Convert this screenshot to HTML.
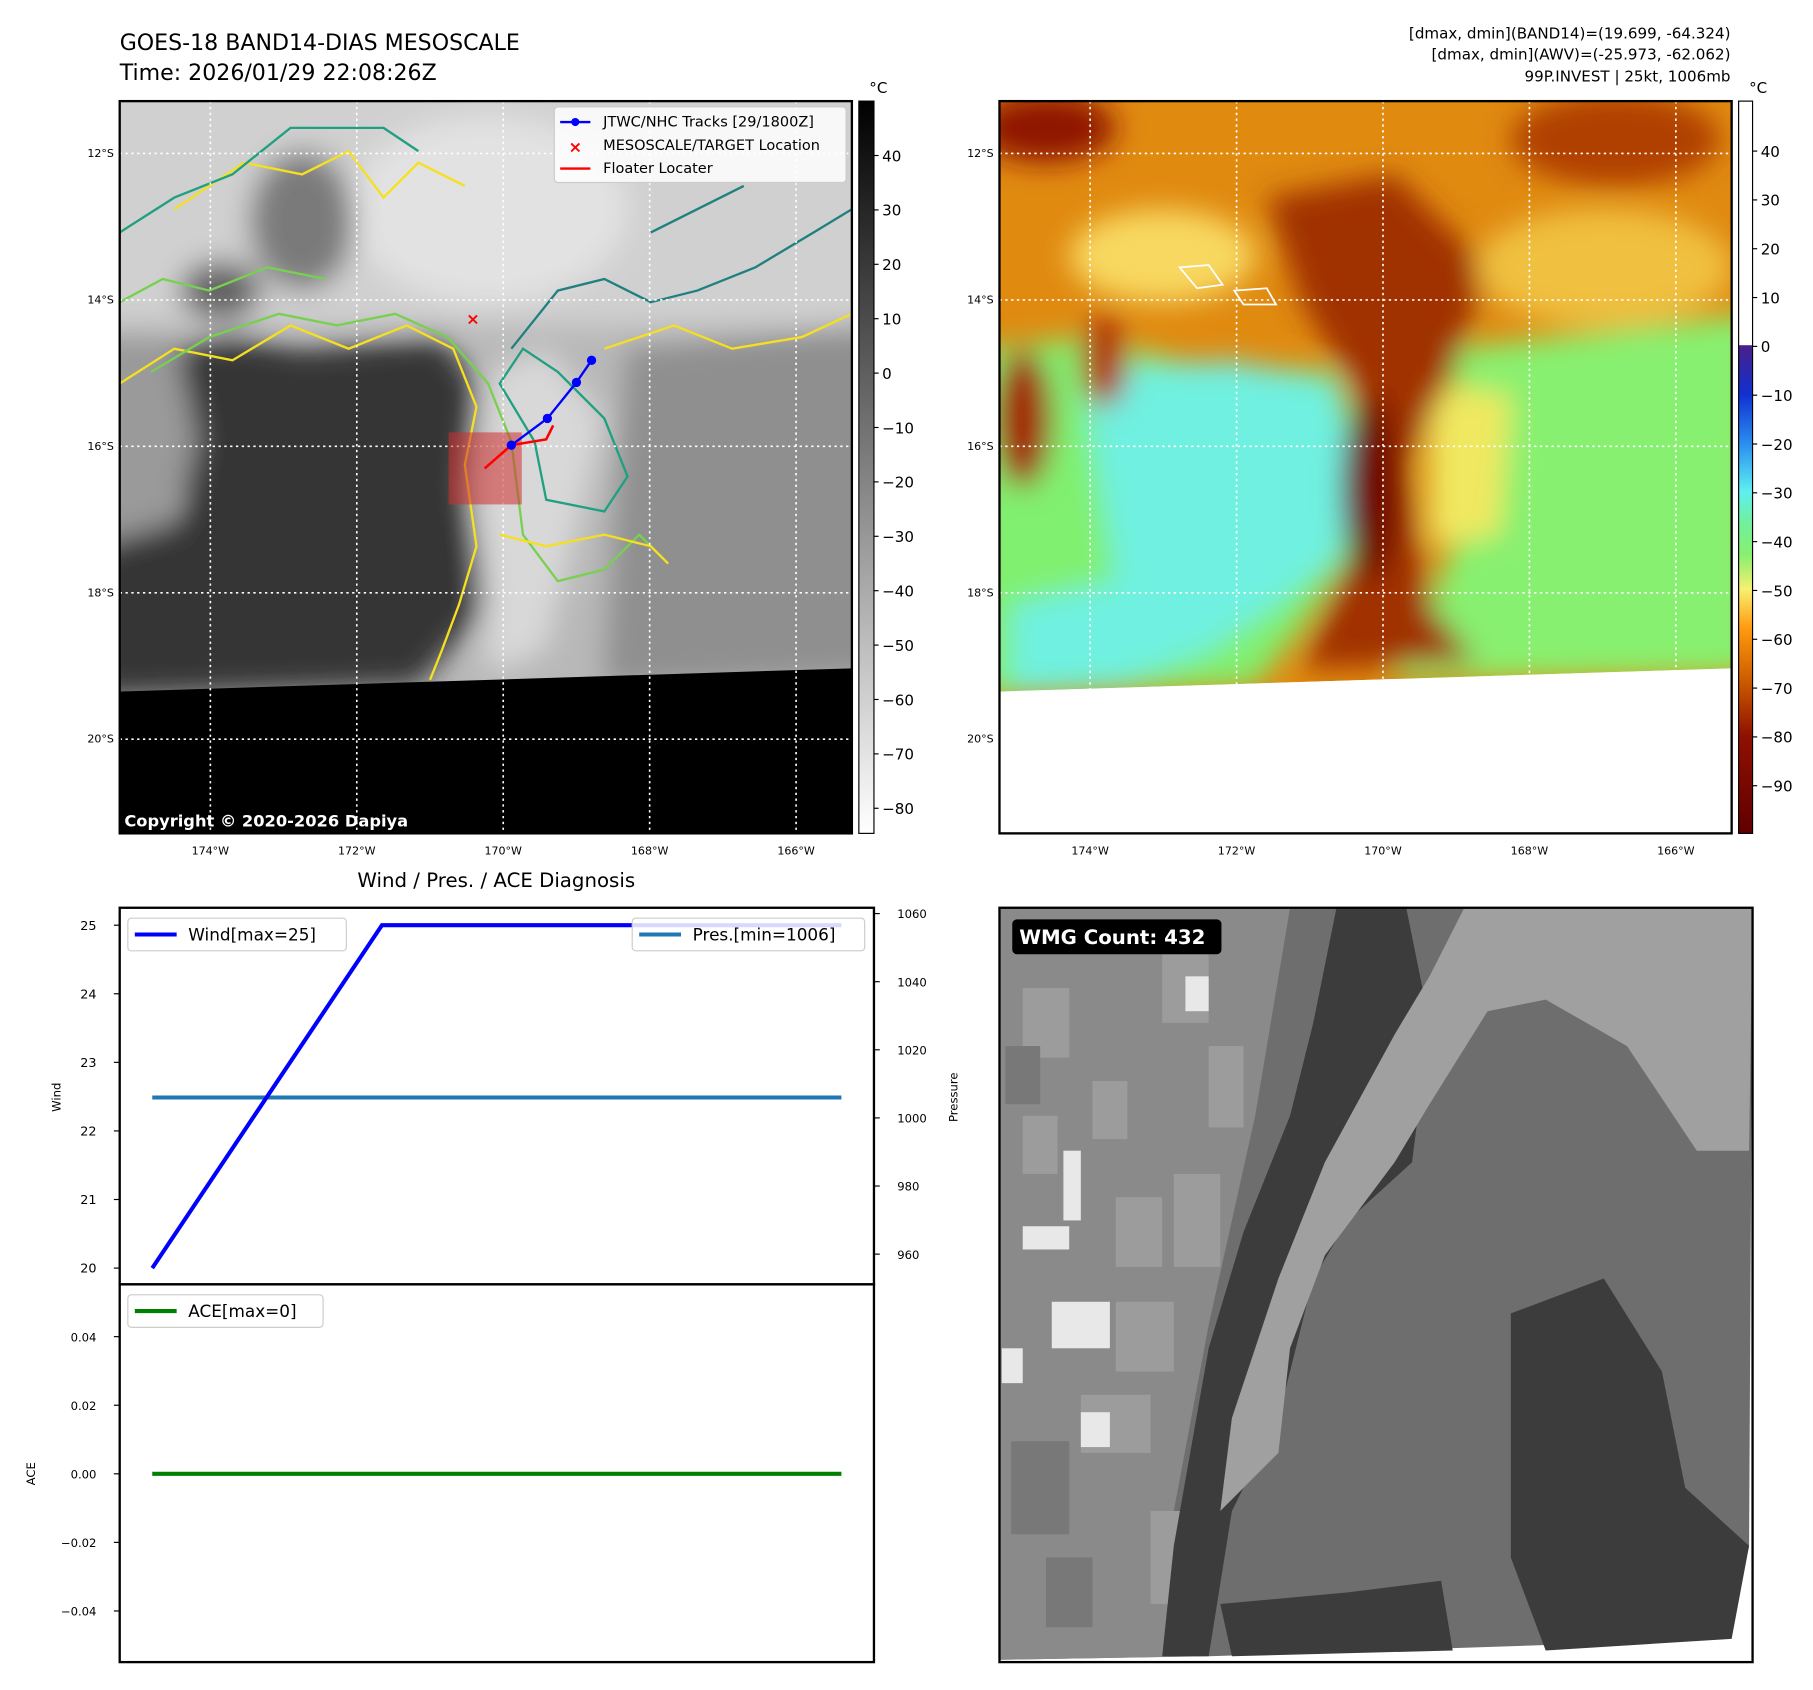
<!DOCTYPE html>
<html><head><meta charset="utf-8"><style>
html,body{margin:0;padding:0;background:#fff;overflow:hidden}
svg{display:block;font-family:"DejaVu Sans","Liberation Sans",sans-serif}
</style></head><body>
<svg id="fig" width="1813" height="1690" viewBox="0 0 1560 1454" preserveAspectRatio="none" xmlns="http://www.w3.org/2000/svg">
<defs>
 <linearGradient id="gcb" x1="0" y1="0" x2="0" y2="1"><stop offset="0" stop-color="#000"/><stop offset="1" stop-color="#fff"/></linearGradient>
 <linearGradient id="ccb" x1="0" y1="0" x2="0" y2="1">
  <stop offset="0" stop-color="#4b1f8a"/><stop offset="0.1" stop-color="#1030d0"/><stop offset="0.2" stop-color="#2a8cf0"/><stop offset="0.3" stop-color="#5ef0f0"/><stop offset="0.36" stop-color="#70f0a0"/><stop offset="0.43" stop-color="#88f070"/><stop offset="0.5" stop-color="#f8f070"/><stop offset="0.58" stop-color="#ff9a10"/><stop offset="0.68" stop-color="#d06000"/><stop offset="0.8" stop-color="#901000"/><stop offset="1" stop-color="#600000"/></linearGradient>
 <filter id="blur12" x="-20%" y="-20%" width="140%" height="140%"><feGaussianBlur stdDeviation="12"/></filter>
 <clipPath id="clipL"><rect x="103" y="87" width="630" height="630"/></clipPath>
 <clipPath id="clipR"><rect x="860" y="87" width="630" height="630"/></clipPath>
 <clipPath id="clipB"><rect x="860" y="781" width="648" height="649"/></clipPath>
</defs>

<text x="103" y="43" font-size="19">GOES-18 BAND14-DIAS MESOSCALE</text>
<text x="103" y="69" font-size="19">Time: 2026/01/29 22:08:26Z</text>
<g font-size="13" text-anchor="end">
 <text x="1489" y="33">[dmax, dmin](BAND14)=(19.699, -64.324)</text>
 <text x="1489" y="51">[dmax, dmin](AWV)=(-25.973, -62.062)</text>
 <text x="1489" y="70">99P.INVEST | 25kt, 1006mb</text>
</g>

<g clip-path="url(#clipL)">
 <rect x="103" y="87" width="630" height="630" fill="#b8b8b8"/>
 <g filter="url(#blur12)">
  <rect x="80" y="60" width="680" height="220" fill="#d0d0d0"/>
  <ellipse cx="420" cy="180" rx="120" ry="80" fill="#e2e2e2"/>
  <path d="M150 300 L200 290 L260 300 L380 290 L410 330 L400 420 L420 520 L360 590 L80 600 L80 470 L160 440 Z" fill="#363636"/>
  <path d="M80 290 L150 290 L170 380 L150 450 L80 470 Z" fill="#9a9a9a"/>
  <path d="M540 300 L760 280 L760 580 L520 590 L530 430 Z" fill="#8f8f8f"/>
  <path d="M420 320 L470 300 L520 360 L500 440 L470 560 L420 580 L410 440 Z" fill="#d8d8d8"/>
  <ellipse cx="260" cy="190" rx="45" ry="60" fill="#7a7a7a"/>
  <ellipse cx="190" cy="250" rx="35" ry="25" fill="#606060"/>
 </g>
 <g fill="none" stroke-width="2">
  <path d="M103 330 L150 300 L200 310 L250 280 L300 300 L350 280 L390 300 L410 350 L400 400 L410 470 L395 520 L380 560 L370 585" stroke="#f5e020"/>
  <path d="M130 320 L180 290 L240 270 L290 280 L340 270 L385 290 L420 330 L440 380 L450 460 L480 500 L520 490 L550 460 L570 480" stroke="#78d050"/>
  <path d="M430 330 L450 300 L480 320 L520 360 L540 410 L520 440 L470 430 L460 380 Z" stroke="#20a080"/>
  <path d="M520 300 L580 280 L630 300 L690 290 L733 270" stroke="#f5e020"/>
  <path d="M150 180 L210 140 L260 150 L300 130 L330 170 L360 140 L400 160" stroke="#f5e020"/>
  <path d="M103 200 L150 170 L200 150 L250 110 L330 110 L360 130" stroke="#20a080"/>
  <path d="M103 260 L140 240 L180 250 L230 230 L280 240" stroke="#78d050"/>
  <path d="M430 460 L470 470 L520 460 L560 470 L575 485" stroke="#f5e020"/>
  <path d="M440 300 L480 250 L520 240 L560 260 L600 250 L650 230 L700 200 L733 180" stroke="#208080"/>
  <path d="M560 200 L600 180 L640 160" stroke="#208080"/>
 </g>
 <path d="M103 595 L733 575 L733 717 L103 717 Z" fill="#000"/>
 <g stroke="#fff" stroke-width="1.4" stroke-dasharray="2,3" fill="none">
  <line x1="103" y1="132" x2="733" y2="132"/><line x1="103" y1="258" x2="733" y2="258"/><line x1="103" y1="384" x2="733" y2="384"/><line x1="103" y1="510" x2="733" y2="510"/><line x1="103" y1="636" x2="733" y2="636"/>
  <line x1="181" y1="87" x2="181" y2="717"/><line x1="307" y1="87" x2="307" y2="717"/><line x1="433" y1="87" x2="433" y2="717"/><line x1="559" y1="87" x2="559" y2="717"/><line x1="685" y1="87" x2="685" y2="717"/>
 </g>
 <rect x="386" y="372" width="63" height="62" fill="#d03030" opacity="0.55"/>
 <polyline points="417,403 440,383 470,378 476,366" fill="none" stroke="#f00" stroke-width="2.2"/>
 <g>
  <polyline points="509,310 496,329 471,360 440,383" fill="none" stroke="#00f" stroke-width="2"/>
  <circle cx="509" cy="310" r="4" fill="#00f"/><circle cx="496" cy="329" r="4" fill="#00f"/><circle cx="471" cy="360" r="4" fill="#00f"/><circle cx="440" cy="383" r="4" fill="#00f"/>
 </g>
 <text x="407" y="279" font-size="14" fill="#f00" text-anchor="middle" font-weight="bold">×</text>
 <g>
  <rect x="477" y="92" width="251" height="65" rx="3" fill="#fff" fill-opacity="0.85" stroke="#ccc"/>
  <line x1="482" y1="105" x2="508" y2="105" stroke="#00f" stroke-width="2"/><circle cx="495" cy="105" r="3.5" fill="#00f"/>
  <text x="519" y="109" font-size="12.5">JTWC/NHC Tracks [29/1800Z]</text>
  <text x="495" y="131" font-size="14" fill="#f00" text-anchor="middle" font-weight="bold">×</text>
  <text x="519" y="129" font-size="12.5">MESOSCALE/TARGET Location</text>
  <line x1="482" y1="145" x2="508" y2="145" stroke="#f00" stroke-width="2"/>
  <text x="519" y="149" font-size="12.5">Floater Locater</text>
 </g>
 <text x="107" y="711" font-size="14" font-weight="bold" fill="#fff">Copyright © 2020-2026 Dapiya</text>
</g>
<rect x="103" y="87" width="630" height="630" fill="none" stroke="#000" stroke-width="2"/>

<g>
 <rect x="739" y="87" width="13" height="630" fill="url(#gcb)" stroke="#000" stroke-width="1"/>
 <text x="748" y="80" font-size="13">°C</text>
 <g id="lcbticks" font-size="13"></g>
</g>

<g clip-path="url(#clipR)">
 <rect x="860" y="87" width="630" height="630" fill="#fff"/>
 <path d="M860 87 L1490 87 L1490 575 L860 595 Z" fill="#e08a10"/>
 <g filter="url(#blur12)">
  <path d="M840 300 L940 290 L1010 310 L1150 320 L1175 400 L1160 480 L1120 540 L1080 590 L840 600 Z" fill="#80f070"/>
  <path d="M930 320 L1060 310 L1150 330 L1165 420 L1150 480 L1100 520 L1040 560 L960 590 L900 590 L960 500 Z" fill="#70f0e0"/>
  <path d="M870 520 L960 500 L940 590 L870 595 Z" fill="#70f0e0"/>
  <path d="M1250 300 L1510 270 L1510 580 L1200 585 L1260 450 Z" fill="#88f070"/>
  <path d="M1230 330 L1300 340 L1290 460 L1230 470 Z" fill="#f0e860"/>
  <path d="M1090 170 L1200 150 L1280 230 L1250 320 L1210 400 L1230 520 L1270 570 L1120 575 L1160 480 L1180 360 L1120 260 Z" fill="#a03000"/>
  <ellipse cx="1180" cy="420" rx="25" ry="80" fill="#701000"/>
  <ellipse cx="900" cy="110" rx="60" ry="30" fill="#901400"/>
  <ellipse cx="1390" cy="120" rx="90" ry="40" fill="#b04000"/>
  <ellipse cx="1000" cy="220" rx="80" ry="40" fill="#f8d860"/>
  <ellipse cx="1380" cy="230" rx="110" ry="50" fill="#f0c040"/>
  <ellipse cx="880" cy="360" rx="25" ry="60" fill="#a02800"/>
  <ellipse cx="950" cy="310" rx="20" ry="40" fill="#b03000"/>
 </g>
 <path d="M860 595 L1490 575 L1490 717 L860 717 Z" fill="#fff"/>
 <g stroke="#fff" stroke-width="1.4" stroke-dasharray="2,3" fill="none">
  <line x1="860" y1="132" x2="1490" y2="132"/><line x1="860" y1="258" x2="1490" y2="258"/><line x1="860" y1="384" x2="1490" y2="384"/><line x1="860" y1="510" x2="1490" y2="510"/><line x1="860" y1="636" x2="1490" y2="636"/>
  <line x1="938" y1="87" x2="938" y2="717"/><line x1="1064" y1="87" x2="1064" y2="717"/><line x1="1190" y1="87" x2="1190" y2="717"/><line x1="1316" y1="87" x2="1316" y2="717"/><line x1="1442" y1="87" x2="1442" y2="717"/>
 </g>
 <g stroke="#fff" fill="none" stroke-width="1.5"><path d="M1015 230 L1040 228 L1052 245 L1030 248 Z"/><path d="M1062 250 L1090 248 L1098 262 L1070 262 Z"/></g>
</g>
<rect x="860" y="87" width="630" height="630" fill="none" stroke="#000" stroke-width="2"/>

<g>
 <rect x="1496" y="87" width="12" height="210" fill="#fff"/>
 <rect x="1496" y="297" width="12" height="420" fill="url(#ccb)"/>
 <rect x="1496" y="87" width="12" height="630" fill="none" stroke="#000" stroke-width="1"/>
 <text x="1505" y="80" font-size="13">°C</text>
 <g id="rcbticks" font-size="13"></g>
</g>

<g id="mapticks" font-size="9.5"></g>

<text x="427" y="763" font-size="17" text-anchor="middle">Wind / Pres. / ACE Diagnosis</text>
<g id="chart"></g>

<g clip-path="url(#clipB)">
 <rect x="860" y="781" width="648" height="649" fill="#fff"/>
 <path d="M860 781 L1508 781 L1505 1330 L1488 1410 L1040 1425 L860 1428 Z" fill="#6e6e6e"/>
 <path d="M860 781 L1110 781 L1080 960 L1040 1140 L1010 1300 L1030 1425 L860 1428 Z" fill="#8a8a8a"/>
 <g fill="#9c9c9c">
  <rect x="880" y="850" width="40" height="60"/><rect x="940" y="930" width="30" height="50"/><rect x="960" y="1030" width="40" height="60"/><rect x="930" y="1200" width="60" height="50"/><rect x="1000" y="820" width="40" height="60"/><rect x="990" y="1300" width="30" height="80"/>
  <rect x="1040" y="900" width="30" height="70"/><rect x="1010" y="1010" width="40" height="80"/><rect x="960" y="1120" width="50" height="60"/><rect x="880" y="960" width="30" height="50"/>
 </g>
 <g fill="#787878"><rect x="870" y="1240" width="50" height="80"/><rect x="900" y="1340" width="40" height="60"/><rect x="865" y="900" width="30" height="50"/></g>
 <g fill="#e8e8e8">
  <rect x="915" y="990" width="15" height="60"/><rect x="905" y="1120" width="50" height="40"/><rect x="930" y="1215" width="25" height="30"/><rect x="1020" y="840" width="20" height="30"/><rect x="880" y="1055" width="40" height="20"/><rect x="862" y="1160" width="18" height="30"/>
 </g>
 <path d="M1150 781 L1210 781 L1230 880 L1215 1000 L1160 1050 L1130 1100 L1100 1220 L1060 1300 L1040 1425 L1000 1425 L1010 1330 L1040 1160 L1070 1060 L1110 960 L1130 880 Z" fill="#3c3c3c"/>
 <path d="M1260 781 L1508 781 L1505 990 L1460 990 L1400 900 L1330 860 L1280 870 L1230 950 L1200 1000 L1140 1080 L1110 1160 L1100 1250 L1050 1300 L1060 1220 L1100 1100 L1140 1000 L1200 890 L1230 840 Z" fill="#a0a0a0"/>
 <path d="M1300 1130 L1380 1100 L1430 1180 L1450 1280 L1505 1330 L1490 1410 L1330 1420 L1300 1340 L1300 1250 Z" fill="#3c3c3c"/>
 <path d="M1050 1380 L1160 1370 L1240 1360 L1250 1420 L1060 1425 Z" fill="#3c3c3c"/>
 <rect x="871" y="791" width="180" height="30" rx="4" fill="#000"/>
 <text x="877" y="812" font-size="17" font-weight="bold" fill="#fff">WMG Count: 432</text>
</g>
<rect x="860" y="781" width="648" height="649" fill="none" stroke="#000" stroke-width="2"/>
</svg>
<script>
const timeIndex = [0, 1, 2, 3];
const windValues = [20, 25, 25, 25];
const pressureValues = [1006, 1006, 1006, 1006];
const aceValues = [0, 0, 0, 0];
const windTicks = [20, 21, 22, 23, 24, 25];
const pressureTicks = [960, 980, 1000, 1020, 1040, 1060];
const aceTicks = [-0.04, -0.02, 0.00, 0.02, 0.04];
const grayCbTicks = [40, 30, 20, 10, 0, -10, -20, -30, -40, -50, -60, -70, -80];
const awvCbTicks = [40, 30, 20, 10, 0, -10, -20, -30, -40, -50, -60, -70, -80, -90];
const latTicks = ["12°S", "14°S", "16°S", "18°S", "20°S"];
const lonTicks = ["174°W", "172°W", "170°W", "168°W", "166°W"];

const NS = "http://www.w3.org/2000/svg";
function mk(tag, attrs, parent, txt) {
  const e = document.createElementNS(NS, tag);
  for (const k in attrs) e.setAttribute(k, attrs[k]);
  if (txt !== undefined) e.textContent = txt;
  parent.appendChild(e); return e;
}
const xS = t => 131 + (t - 0) * (724 - 131) / 3;
const yWind = v => 1091 - (v - 20) * (1091 - 796) / 5;
const yPres = v => 1079 - (v - 960) * (1079 - 786) / 100;
const yAce = v => 1268 - v * (1268 - 1150) / 0.04;
const yGray = v => 321 - v * 4.68;
const yAwv = v => 298 - v * 4.2;

const ch = document.getElementById('chart');
let r1 = mk('rect', {x:103, y:781, width:649, height:324, fill:'none', stroke:'#000', 'stroke-width':2}, ch);


let r2 = mk('rect', {x:103, y:1105, width:649, height:325, fill:'none', stroke:'#000', 'stroke-width':2}, ch);



windTicks.forEach(v => {
  const y = yWind(v);
  mk('line', {x1:98, y1:y, x2:103, y2:y, stroke:'#000'}, ch);
  const t = mk('text', {x:83, y:y+4, 'font-size':11, 'text-anchor':'end'}, ch, String(v));
  
  
});
pressureTicks.forEach(v => {
  const y = yPres(v);
  mk('line', {x1:752, y1:y, x2:757, y2:y, stroke:'#000'}, ch);
  const t = mk('text', {x:772, y:y+4, 'font-size':10}, ch, String(v));
  
  
});
aceTicks.forEach(v => {
  const y = yAce(v);
  mk('line', {x1:98, y1:y, x2:103, y2:y, stroke:'#000'}, ch);
  const t = mk('text', {x:83, y:y+4, 'font-size':10, 'text-anchor':'end'}, ch, v.toFixed(2).replace('-', '−'));
  
  
});
let yl = mk('text', {x:0, y:0, 'font-size':10, 'text-anchor':'middle', transform:'translate(52,944) rotate(-90)'}, ch, 'Wind');


let pl = mk('text', {x:0, y:0, 'font-size':10, 'text-anchor':'middle', transform:'translate(824,944) rotate(-90)'}, ch, 'Pressure');


let al = mk('text', {x:0, y:0, 'font-size':10, 'text-anchor':'middle', transform:'translate(30,1268) rotate(-90)'}, ch, 'ACE');



function line(vals, yf, color, name) {
  const pts = timeIndex.map((t, i) => xS(t) + ',' + yf(vals[i])).join(' ');
  const p = mk('polyline', {points:pts, fill:'none', stroke:color, 'stroke-width':3.5}, ch);
  
  
}
line(pressureValues, yPres, '#1f77b4', 'pressure-line');
line(windValues, yWind, '#0000ff', 'wind-line');
line(aceValues, yAce, '#008000', 'ace-line');

function legend(x, y, w, color, label, name) {
  const g = mk('g', {}, ch);
  
  
  mk('rect', {x:x, y:y, width:w, height:28, rx:3, fill:'#fff', 'fill-opacity':0.85, stroke:'#ccc'}, g);
  mk('line', {x1:x+6, y1:y+14, x2:x+42, y2:y+14, stroke:color, 'stroke-width':3.5}, g);
  mk('text', {x:x+52, y:y+19, 'font-size':14.5}, g, label);
}
legend(110, 790, 188, '#0000ff', 'Wind[max=25]', 'wind-legend');
legend(544, 790, 200, '#1f77b4', 'Pres.[min=1006]', 'pressure-legend');
legend(110, 1114, 168, '#008000', 'ACE[max=0]', 'ace-legend');

const lcb = document.getElementById('lcbticks');
grayCbTicks.forEach(v => {
  const y = yGray(v);
  mk('line', {x1:752, y1:y, x2:756, y2:y, stroke:'#000'}, lcb);
  const t = mk('text', {x:759, y:y+5}, lcb, String(v).replace('-', '−'));
  
  
});
const rcb = document.getElementById('rcbticks');
awvCbTicks.forEach(v => {
  const y = yAwv(v);
  mk('line', {x1:1508, y1:y, x2:1512, y2:y, stroke:'#000'}, rcb);
  const t = mk('text', {x:1515, y:y+5}, rcb, String(v).replace('-', '−'));
  
  
});
const mt = document.getElementById('mapticks');
[103, 860].forEach(x0 => {
  latTicks.forEach((s, i) => {
    const t = mk('text', {x:x0-5, y:135+i*126, 'text-anchor':'end'}, mt, s);
    
    
  });
  lonTicks.forEach((s, i) => {
    const t = mk('text', {x:x0+78+i*126, y:735, 'text-anchor':'middle'}, mt, s);
    
    
  });
});
</script>
</body></html>
